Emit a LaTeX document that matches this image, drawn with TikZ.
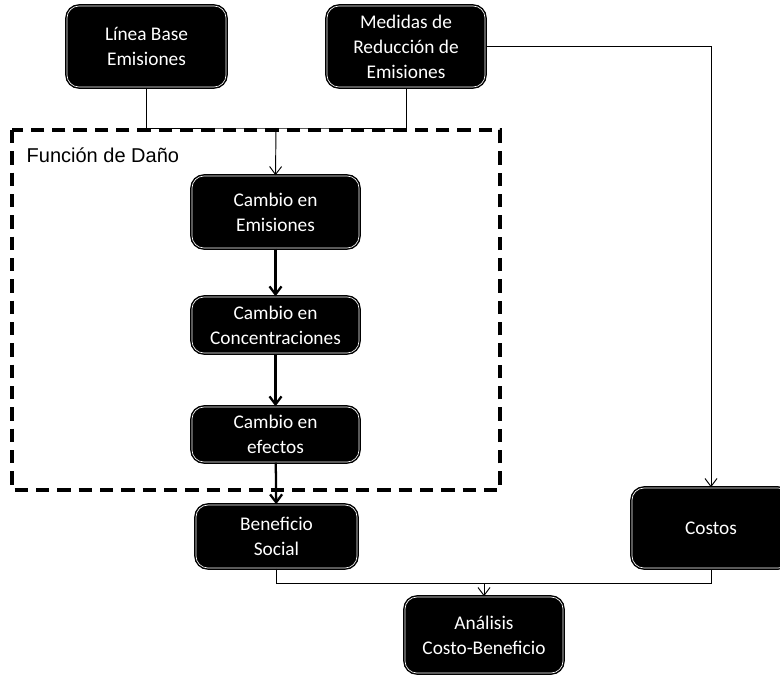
\documentclass[tikz,border=0pt]{standalone}
\usepackage{fontspec}
\setmainfont{Carlito}
\newfontfamily\arialfont{Liberation Sans}
\usetikzlibrary{arrows.meta}

\begin{document}
\begin{tikzpicture}[%
  x=0.75pt,y=-0.75pt,
  box/.style={draw=black,double=white,double distance=0.5pt,line width=1.1pt,
    fill=black,rounded corners=9pt,text=white,align=center,inner sep=0pt,
    font=\fontsize{14.5}{18.75}\selectfont},
  link/.style={line width=0.7pt},
  tip/.style={-{Straight Barb[length=6pt,width=9pt]}},
  flow/.style={line width=1.7pt,-{Straight Barb[length=6pt,width=9pt]}}
  ]
  \path[use as bounding box,clip] (0,0) rectangle (780,675);
  % marco de la funcion de dano
  \draw[line width=2.6pt,dash pattern=on 10pt off 6pt] (12,130) rectangle (500,490);
  \node[anchor=base west,font=\arialfont\fontsize{15}{18}\selectfont] (dano) at (22,162) {Función de Daño};

  \node[box,minimum width=119.25pt,minimum height=60.75pt] (base) at (146.5,46.5) {Línea Base\\Emisiones};
  \node[box,minimum width=118.5pt,minimum height=60.75pt] (medidas) at (406,46.5) {Medidas de\\Reducción de\\Emisiones};
  \node[box,minimum width=125.25pt,minimum height=54pt] (emis) at (275.5,212) {Cambio en\\Emisiones};
  \node[box,minimum width=125.25pt,minimum height=42pt] (conc) at (275.5,325) {Cambio en\\Concentraciones};
  \node[box,minimum width=125.25pt,minimum height=41.25pt] (efec) at (275.5,434.5) {Cambio en\\efectos};
  \node[box,minimum width=120.75pt,minimum height=47.25pt] (benef) at (276.5,536.5) {Beneficio\\Social};
  \node[box,minimum width=118.5pt,minimum height=60pt] (costos) at (711,528) {Costos};
  \node[box,minimum width=118.5pt,minimum height=57pt] (analisis) at (484,635) {Análisis\\Costo-Beneficio};

  \coordinate (join) at (276,128);
  \coordinate (meet) at (484,583);
  \draw[link] (base.south) |- (join) -| (medidas.south);
  \draw[link,tip] (join) -- (emis.north);
  \draw[link,tip] (medidas.east) -| (costos.north);
  \draw[flow] (emis) -- (conc);
  \draw[flow] (conc) -- (efec);
  \draw[flow] (efec) -- (benef);
  \draw[link] (benef.south) |- (meet) -| (costos.south);
  \draw[link,tip] (meet) -- (analisis.north);
\end{tikzpicture}
\end{document}
